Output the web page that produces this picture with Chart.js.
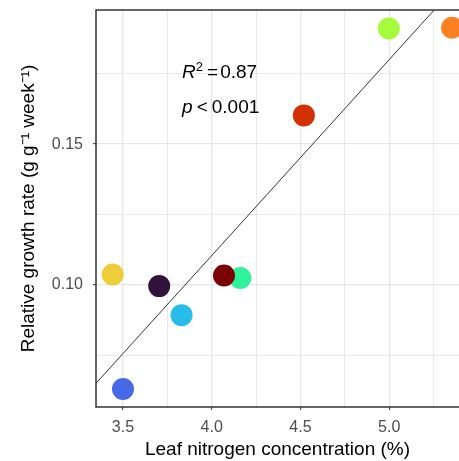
<!DOCTYPE html>
<html>
<head>
<meta charset="utf-8">
<script src="https://cdn.jsdelivr.net/npm/chart.js@4"></script>
<style>
    html, body { margin: 0; padding: 0; overflow: hidden; background: #fff; }
    canvas { display: block; }
</style>
</head>
<body>
<canvas id="rgrChart" width="459" height="461"></canvas>
<script>
// leaf N (%) vs relative growth rate, one point per species
const leafN = [3.442, 3.704, 3.830, 3.500, 4.161, 4.069, 4.519, 4.998, 5.354];
const growthRate = [0.1037, 0.0996, 0.0893, 0.0631, 0.1025, 0.1034, 0.1602, 0.1910, 0.1913];
const pointColors = ['#EDCE3A', '#30123B', '#28BCEB', '#4669E6', '#2FF29A', '#7A0403', '#D23105', '#A4FC3B', '#FB8022'];

// fitted regression line end points
const fitX = [3.348, 5.253];
const fitY = [0.0651, 0.1976];

const xMajorTicks = [3.5, 4.0, 4.5, 5.0];
const xMinorTicks = [3.75, 4.25, 4.75, 5.25];
const yMajorTicks = [0.10, 0.15];
const yMinorTicks = [0.075, 0.125, 0.175];

const annotX = 3.833;
const annotY = [0.1735, 0.1611];
const r2Text = '0.87';
const pText = '0.001';

const fontFamily = '"Liberation Sans", Arial, Helvetica, sans-serif';
const gridColor = '#e6e6e6';
const darkGray = '#333333';

function isMajor(list, v) {
    return list.some(t => Math.abs(t - v) < 1e-9);
}

function noPadding(scale) {
    scale.paddingTop = 0;
    scale.paddingBottom = 0;
    scale.paddingLeft = 0;
    scale.paddingRight = 0;
}

// panel frame: the right side is cut off by the picture edge
const panelBorder = {
    id: 'panelBorder',
    afterDraw(chart) {
        const {ctx, chartArea} = chart;
        ctx.save();
        ctx.strokeStyle = darkGray;
        ctx.lineWidth = 1.5;
        ctx.beginPath();
        ctx.moveTo(chart.width + 2, chartArea.top);
        ctx.lineTo(chartArea.left, chartArea.top);
        ctx.lineTo(chartArea.left, chartArea.bottom);
        ctx.lineTo(chart.width + 2, chartArea.bottom);
        ctx.stroke();
        ctx.restore();
    }
};

const statsText = {
    id: 'statsText',
    afterDraw(chart) {
        const {ctx, scales} = chart;
        const x0 = scales.x.getPixelForValue(annotX);
        const y1 = scales.y.getPixelForValue(annotY[0]);
        const y2 = scales.y.getPixelForValue(annotY[1]);
        ctx.save();
        ctx.fillStyle = '#000';
        ctx.textBaseline = 'alphabetic';
        ctx.textAlign = 'left';

        let x = x0;
        ctx.font = 'italic 19px ' + fontFamily;
        ctx.fillText('R', x, y1);
        x += ctx.measureText('R').width;
        ctx.font = '13px ' + fontFamily;
        ctx.fillText('2', x, y1 - 7);
        x += ctx.measureText('2').width + 4;
        ctx.font = '19px ' + fontFamily;
        ctx.fillText('=', x, y1);
        x += ctx.measureText('=').width + 2;
        ctx.fillText(r2Text, x, y1);

        x = x0;
        ctx.font = 'italic 19px ' + fontFamily;
        ctx.fillText('p', x, y2);
        x += ctx.measureText('p').width + 4;
        ctx.font = '19px ' + fontFamily;
        ctx.fillText('<', x, y2);
        x += ctx.measureText('<').width + 4;
        ctx.fillText(pText, x, y2);
        ctx.restore();
    }
};

const points = leafN.map((v, i) => ({x: v, y: growthRate[i]}));
const fitLine = fitX.map((v, i) => ({x: v, y: fitY[i]}));

new Chart(document.getElementById('rgrChart'), {
    type: 'scatter',
    data: {
        datasets: [{
            label: 'species',
            data: points,
            backgroundColor: pointColors,
            borderWidth: 0,
            pointRadius: 11,
            pointHoverRadius: 11,
            order: 1
        }, {
            type: 'line',
            label: 'fit',
            data: fitLine,
            borderColor: darkGray,
            borderWidth: 1,
            pointRadius: 0,
            fill: false,
            order: 2
        }]
    },
    options: {
        responsive: false,
        animation: false,
        devicePixelRatio: 1,
        layout: { autoPadding: false, padding: { top: 10, right: 0, left: 0, bottom: 0 } },
        plugins: {
            legend: { display: false },
            tooltip: { enabled: false }
        },
        scales: {
            x: {
                type: 'linear',
                min: 3.348,
                max: 5.393,
                afterBuildTicks: scale => {
                    scale.ticks = xMajorTicks.concat(xMinorTicks).sort((a, b) => a - b).map(v => ({value: v}));
                },
                afterFit: scale => { scale.height = 54; noPadding(scale); },
                border: { display: false },
                grid: {
                    color: gridColor,
                    lineWidth: ctx => isMajor(xMajorTicks, ctx.tick.value) ? 1.3 : 0.9,
                    tickColor: ctx => isMajor(xMajorTicks, ctx.tick.value) ? darkGray : 'rgba(0,0,0,0)',
                    tickLength: 3,
                    tickWidth: 1
                },
                ticks: {
                    color: '#4d4d4d',
                    font: { family: fontFamily, size: 16 },
                    padding: 8,
                    maxRotation: 0,
                    autoSkip: false,
                    callback: v => isMajor(xMajorTicks, v) ? v.toFixed(1) : ''
                },
                title: {
                    display: true,
                    text: 'Leaf nitrogen concentration (%)',
                    color: '#000',
                    font: { family: fontFamily, size: 19 },
                    padding: { top: 0, bottom: 0 }
                }
            },
            y: {
                type: 'linear',
                min: 0.0567,
                max: 0.1976,
                afterBuildTicks: scale => {
                    scale.ticks = yMajorTicks.concat(yMinorTicks).sort((a, b) => a - b).map(v => ({value: v}));
                },
                afterFit: scale => { scale.width = 96; noPadding(scale); },
                border: { display: false },
                grid: {
                    color: gridColor,
                    lineWidth: ctx => isMajor(yMajorTicks, ctx.tick.value) ? 1.3 : 0.9,
                    tickColor: ctx => isMajor(yMajorTicks, ctx.tick.value) ? darkGray : 'rgba(0,0,0,0)',
                    tickLength: 3,
                    tickWidth: 1
                },
                ticks: {
                    color: '#4d4d4d',
                    font: { family: fontFamily, size: 16 },
                    padding: 10,
                    autoSkip: false,
                    callback: v => isMajor(yMajorTicks, v) ? v.toFixed(2) : ''
                },
                title: {
                    display: true,
                    text: 'Relative growth rate (g g\u207B\u00B9 week\u207B\u00B9)',
                    color: '#000',
                    font: { family: fontFamily, size: 19 },
                    padding: { top: 17, bottom: 0 }
                }
            }
        }
    },
    plugins: [panelBorder, statsText]
});
</script>
</body>
</html>
